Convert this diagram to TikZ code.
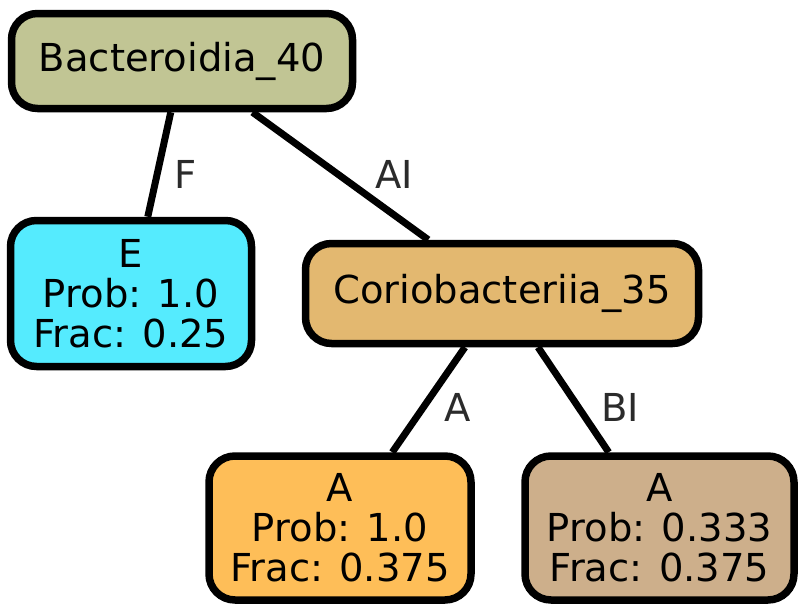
\documentclass[tikz,border=0pt]{standalone}
\usepackage{fontspec}
\setmainfont{DejaVu Sans}
\definecolor{cBac}{HTML}{C1C594}
\definecolor{cE}{HTML}{55EBFE}
\definecolor{cCor}{HTML}{E3B870}
\definecolor{cAl}{HTML}{FEBE58}
\definecolor{cAr}{HTML}{CDAF8B}
\definecolor{cLab}{HTML}{2B2B2B}
\tikzset{
  treenode/.style={draw=black, line width=7.5pt, rounded corners=26pt, inner sep=0pt,
    align=center, font=\fontsize{38.5}{40}\selectfont, text=black},
  edgeline/.style={draw=black, line width=7pt},
  edgelab/.style={anchor=base, text=cLab, font=\fontsize{38.5}{40}\selectfont, inner sep=0pt}
}
\begin{document}
\begin{tikzpicture}[x=1pt, y=-1pt]
\useasboundingbox (0,0) rectangle (807,613);
\node[treenode, fill=cBac, minimum width=341pt, minimum height=95pt] (bac) at (182,61) {Bacteroidia\_40};
\node[treenode, fill=cE, minimum width=241pt, minimum height=146pt] (e) at (131,293.5) {E\\Prob: 1.0\\Frac: 0.25};
\node[treenode, fill=cCor, minimum width=393pt, minimum height=100pt] (cor) at (502,293.5) {Coriobacteriia\_35};
\node[treenode, fill=cAl, minimum width=262pt, minimum height=144pt] (al) at (340,528) {A\\Prob: 1.0\\Frac: 0.375};
\node[treenode, fill=cAr, minimum width=269pt, minimum height=144pt] (ar) at (659.5,528) {A\\Prob: 0.333\\Frac: 0.375};
\draw[edgeline] (bac) -- (e);
\draw[edgeline] (bac) -- (cor);
\draw[edgeline] (cor) -- (al);
\draw[edgeline] (cor) -- (ar);
\node[edgelab] (lf) at (186,188) {F};
\node[edgelab] (lai) at (394,188) {AI};
\node[edgelab] (la) at (457.5,421) {A};
\node[edgelab] (lbi) at (620,421) {BI};
\end{tikzpicture}
\end{document}
